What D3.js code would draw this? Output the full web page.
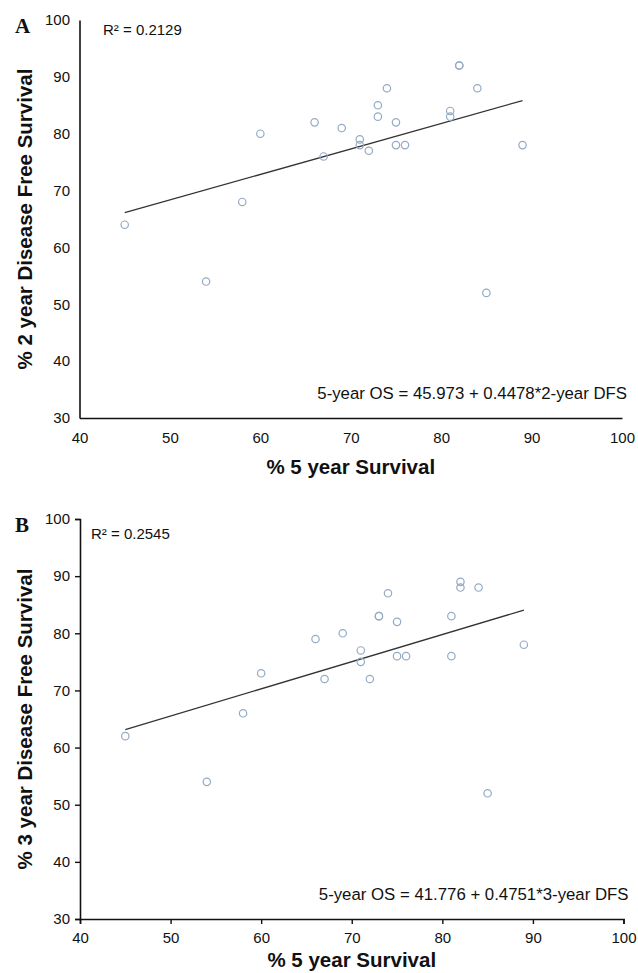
<!DOCTYPE html>
<html>
<head>
<meta charset="utf-8">
<script src="https://cdn.jsdelivr.net/npm/d3@7"></script>
<style>
  html, body { margin: 0; padding: 0; background: #fff; }
  svg text { font-family: "Liberation Sans", Arial, sans-serif; fill: #111; }
</style>
</head>
<body>
<svg id="chart" width="638" height="973"></svg>
<script>
// Data.
const os5 = [45, 54, 58, 60, 66, 67, 69, 71, 71, 72, 73, 73, 74, 75, 75, 76, 81, 81, 82, 82, 84, 85, 89]
const dfs2 = [64, 54, 68, 80, 82, 76, 81, 79, 78, 77, 85, 83, 88, 82, 78, 78, 84, 83, 92, 92, 88, 52, 78]
const dfs3 = [62, 54, 66, 73, 79, 72, 80, 77, 75, 72, 83, 83, 87, 82, 76, 76, 83, 76, 89, 88, 88, 52, 78]

// Fitted lines: [intercept, slope].
const fit2 = [45.973, 0.4478]
const fit3 = [41.776, 0.4751]

const xTicks = [40, 50, 60, 70, 80, 90, 100]
const yTicks = [30, 40, 50, 60, 70, 80, 90, 100]

const panels = [
  {
    letter: 'A', y: dfs2, fit: fit2,
    r2: 'R² = 0.2129',
    eq: '5-year OS = 45.973 + 0.4478*2-year DFS',
    yTitle: '% 2 year Disease Free Survival',
    left: 79.5, right: 622, top: 20, bottom: 418,
    tick: 0, titleGap: 56
  },
  {
    letter: 'B', y: dfs3, fit: fit3,
    r2: 'R² = 0.2545',
    eq: '5-year OS = 41.776 + 0.4751*3-year DFS',
    yTitle: '% 3 year Disease Free Survival',
    left: 80, right: 623.5, top: 519, bottom: 919,
    tick: 5, titleGap: 48
  }
]

const svg = d3.select('#chart')

panels.forEach(function(p) {
  const g = svg.append('g')

  const x = d3.scaleLinear().domain([40, 100]).range([p.left, p.right])
  const y = d3.scaleLinear().domain([30, 100]).range([p.bottom, p.top])

  // Axes.
  const xAxis = g.append('g')
    .attr('transform', 'translate(0,' + p.bottom + ')')
    .call(d3.axisBottom(x).tickValues(xTicks).tickSize(p.tick)
      .tickPadding(p.tick ? 8.5 : 14.3))
  const yAxis = g.append('g')
    .attr('transform', 'translate(' + p.left + ',0)')
    .call(d3.axisLeft(y).tickValues(yTicks).tickSize(p.tick)
      .tickPadding(p.tick ? 5 : 9.5))
  ;[xAxis, yAxis].forEach(function(a) {
    a.select('.domain').attr('stroke', '#111').attr('stroke-width', 1.6)
    a.selectAll('.tick line').attr('stroke', '#111').attr('stroke-width', 1.4)
    a.selectAll('.tick text')
      .attr('fill', '#111')
      .style('font-size', '15px')
      .style('font-family', '"Liberation Sans", Arial, sans-serif')
  })

  // Regression line over the data range.
  const xs = d3.extent(os5)
  g.append('line')
    .attr('x1', x(xs[0])).attr('y1', y(p.fit[0] + p.fit[1] * xs[0]))
    .attr('x2', x(xs[1])).attr('y2', y(p.fit[0] + p.fit[1] * xs[1]))
    .attr('stroke', '#333')
    .attr('stroke-width', 1.3)

  // Points.
  g.selectAll('circle')
    .data(os5.map(function(v, i) { return [v, p.y[i]] }))
    .enter()
    .append('circle')
      .attr('cx', function(d) { return x(d[0]) })
      .attr('cy', function(d) { return y(d[1]) })
      .attr('r', 3.7)
      .attr('fill', 'none')
      .attr('stroke', '#94aac4')
      .attr('stroke-width', 1.2)

  // Panel letter.
  g.append('text')
    .attr('x', 15)
    .attr('y', p.top + 12.5)
    .style('font-family', '"Liberation Serif", "Times New Roman", serif')
    .style('font-weight', 'bold')
    .style('font-size', '21px')
    .text(p.letter)

  // R squared.
  g.append('text')
    .attr('x', p.left + (p.letter === 'A' ? 23.5 : 11))
    .attr('y', p.top + (p.letter === 'A' ? 15 : 20))
    .style('font-size', '15px')
    .text(p.r2)

  // Equation.
  g.append('text')
    .attr('x', p.right + 5)
    .attr('y', p.bottom - 19.5)
    .attr('text-anchor', 'end')
    .style('font-size', '16.8px')
    .text(p.eq)

  // Axis titles.
  g.append('text')
    .attr('x', (p.left + p.right) / 2)
    .attr('y', p.bottom + p.titleGap)
    .attr('text-anchor', 'middle')
    .style('font-weight', 'bold')
    .style('font-size', '20.5px')
    .text('% 5 year Survival')

  g.append('text')
    .attr('transform', 'translate(32,' + ((p.top + p.bottom) / 2) + ') rotate(-90)')
    .attr('text-anchor', 'middle')
    .style('font-weight', 'bold')
    .style('font-size', '20.5px')
    .text(p.yTitle)
})
</script>
</body>
</html>
